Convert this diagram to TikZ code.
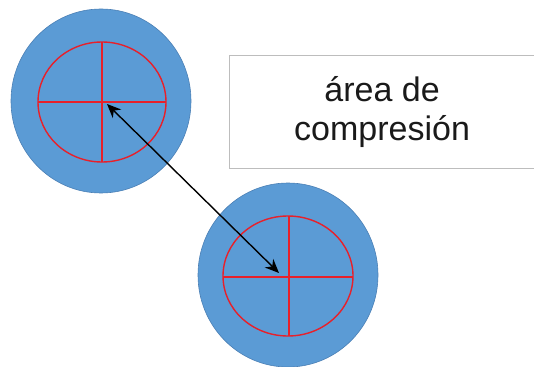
\documentclass[tikz,border=0pt]{standalone}
\usepackage{fontspec}
\setmainfont{Liberation Sans}
\usetikzlibrary{shapes.geometric,arrows.meta}
\definecolor{discblue}{HTML}{5B9BD5}
\definecolor{discedge}{HTML}{4A7FB5}
\definecolor{crossred}{HTML}{E8202A}
\definecolor{boxgray}{HTML}{BDBDBD}
\definecolor{textgray}{HTML}{1A1A1A}
\tikzset{
  disc/.style={ellipse, fill=discblue, draw=discedge, line width=0.6pt, minimum width=180pt, minimum height=184pt, inner sep=0pt},
  ring/.style={draw=crossred, line width=1.4pt},
  label box/.style={draw=boxgray, line width=1.2pt, fill=white},
  link/.style={{Stealth[length=14pt,width=12pt]}-{Stealth[length=14pt,width=12pt]}, line width=1.4pt, black}
}
\begin{document}
\begin{tikzpicture}[x=1pt,y=-1pt]
\useasboundingbox (0,0) rectangle (534,366);
% disc 1
\node[disc] (d1) at (101,101) {};
\draw[ring] (102,102) ellipse [x radius=64, y radius=60];
\draw[ring] (38,102) -- (166,102) (102,42) -- (102,162);
% disc 2
\node[disc] (d2) at (288,275) {};
\draw[ring] (288,276) ellipse [x radius=65, y radius=60];
\draw[ring] (223,277) -- (353,277) (289,216) -- (289,336);
% box
\node[label box, minimum width=305pt, minimum height=113pt, anchor=north west, align=center,
      font=\fontsize{34}{39}\selectfont, text=textgray, inner sep=0pt] (lbl) at (229,55) {área de\\compresión};
% arrow
\coordinate (e1) at (107,104);
\coordinate (e2) at (279,273);
\draw[link] (e1) -- (e2);
\end{tikzpicture}
\end{document}
